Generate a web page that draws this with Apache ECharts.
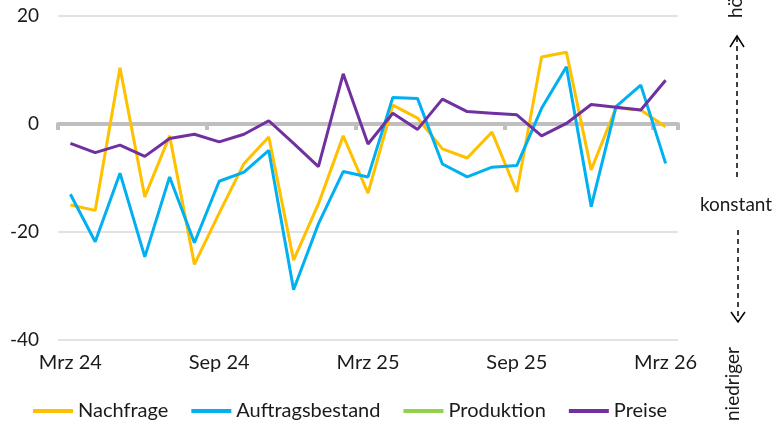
<!DOCTYPE html>
<html>
<head>
<meta charset="utf-8">
<script src="https://cdn.jsdelivr.net/npm/echarts@6/dist/echarts.min.js"></script>
<style>
  html, body { margin: 0; padding: 0; background: #fff; }
  #chart { width: 777px; height: 425px; }
</style>
</head>
<body>
<div id="chart"></div>
<script>
const months = ['Mrz 24', 'Apr 24', 'Mai 24', 'Jun 24', 'Jul 24', 'Aug 24', 'Sep 24', 'Okt 24', 'Nov 24', 'Dez 24', 'Jan 25', 'Feb 25',
  'Mrz 25', 'Apr 25', 'Mai 25', 'Jun 25', 'Jul 25', 'Aug 25', 'Sep 25', 'Okt 25', 'Nov 25', 'Dez 25', 'Jan 26', 'Feb 26', 'Mrz 26']
const nachfrage = [-15, -16, 10.4, -13.5, -2.2, -26, -16.5, -7.3, -2.4, -25.2, -14.8, -2.2,
  -12.8, 3.5, 1.1, -4.6, -6.3, -1.5, -12.6, 12.4, 13.3, -8.5, 3, 2.6, -0.5]
const auftragsbestand = [-13, -21.8, -9.1, -24.6, -9.8, -22, -10.6, -8.9, -4.9, -30.7, -18.5, -8.8,
  -9.8, 4.9, 4.7, -7.4, -9.8, -8, -7.7, 2.9, 10.6, -15.3, 3.2, 7.2, -7.3]
const produktion = months.map(() => null)
const preise = [-3.6, -5.3, -3.9, -6, -2.7, -1.9, -3.3, -1.9, 0.6, -3.6, -7.9, 9.3,
  -3.7, 2, -1, 4.6, 2.3, 2, 1.7, -2.2, 0.1, 3.6, 3.1, 2.6, 8.1]
const seriesNames = ['Nachfrage', 'Auftragsbestand', 'Produktion', 'Preise']

const font = 'Lato, "Open Sans", sans-serif'
const textColor = '#1a1a1a'

const chart = echarts.init(document.getElementById('chart'))

function lineSeries(name, data, color) {
  return {
    name,
    type: 'line',
    data,
    symbol: 'none',
    xAxisIndex: 0,
    lineStyle: { width: 3, color },
    itemStyle: { color }
  }
}

chart.setOption({
  animation: false,
  color: ['#ffc000', '#00b0f0', '#92d050', '#7030a0'],
  grid: { left: 58, right: 99, top: 16, bottom: 85 },
  legend: {
    data: seriesNames,
    left: 33,
    bottom: 4,
    padding: 0,
    icon: 'rect',
    itemWidth: 40,
    itemHeight: 4,
    itemGap: 23,
    textStyle: { fontFamily: font, fontSize: 20, color: textColor }
  },
  xAxis: [{
    type: 'category',
    data: months,
    boundaryGap: true,
    position: 'bottom',
    axisLine: { show: false, onZero: false },
    axisTick: { show: false },
    axisLabel: { interval: 5, margin: 13, fontFamily: font, fontSize: 20, color: textColor }
  }, {
    type: 'category',
    data: months,
    boundaryGap: true,
    position: 'top',
    axisLine: { show: true, onZero: true, lineStyle: { color: '#bfbfbf', width: 4 } },
    axisTick: {
      show: true, inside: true, length: 6,
      interval: (index) => index % 6 === 0,
      lineStyle: { color: '#bfbfbf', width: 4 }
    },
    axisLabel: { show: false }
  }],
  yAxis: {
    type: 'value',
    min: -40,
    max: 20,
    interval: 20,
    axisLine: { show: false },
    axisTick: { show: false },
    axisLabel: { margin: 19, fontFamily: font, fontSize: 19, color: textColor },
    splitLine: { lineStyle: { color: '#d9d9d9', width: 1.5 } }
  },
  graphic: [
    {
      type: 'text', x: 736, y: 18, rotation: Math.PI / 2,
      style: { text: 'höher', font: '19px ' + font, fill: textColor, align: 'left', verticalAlign: 'middle' }
    },
    {
      type: 'line', shape: { x1: 737, y1: 37, x2: 737, y2: 178 },
      style: { stroke: '#000', lineWidth: 1.5, lineDash: [5, 4] }
    },
    {
      type: 'polyline', shape: { points: [[730, 47], [737, 36], [744, 47]] },
      style: { stroke: '#000', lineWidth: 1.5, fill: null }
    },
    {
      type: 'text', x: 736, y: 205,
      style: { text: 'konstant', font: '19px ' + font, fill: textColor, align: 'center', verticalAlign: 'middle' }
    },
    {
      type: 'line', shape: { x1: 738, y1: 230, x2: 738, y2: 321 },
      style: { stroke: '#000', lineWidth: 1.5, lineDash: [5, 4] }
    },
    {
      type: 'polyline', shape: { points: [[731, 312], [738, 322], [745, 312]] },
      style: { stroke: '#000', lineWidth: 1.5, fill: null }
    },
    {
      type: 'text', x: 733, y: 421, rotation: Math.PI / 2,
      style: { text: 'niedriger', font: '19px ' + font, fill: textColor, align: 'left', verticalAlign: 'middle' }
    }
  ],
  series: [
    lineSeries(seriesNames[0], nachfrage, '#ffc000'),
    lineSeries(seriesNames[1], auftragsbestand, '#00b0f0'),
    lineSeries(seriesNames[2], produktion, '#92d050'),
    lineSeries(seriesNames[3], preise, '#7030a0')
  ]
})
</script>
</body>
</html>
